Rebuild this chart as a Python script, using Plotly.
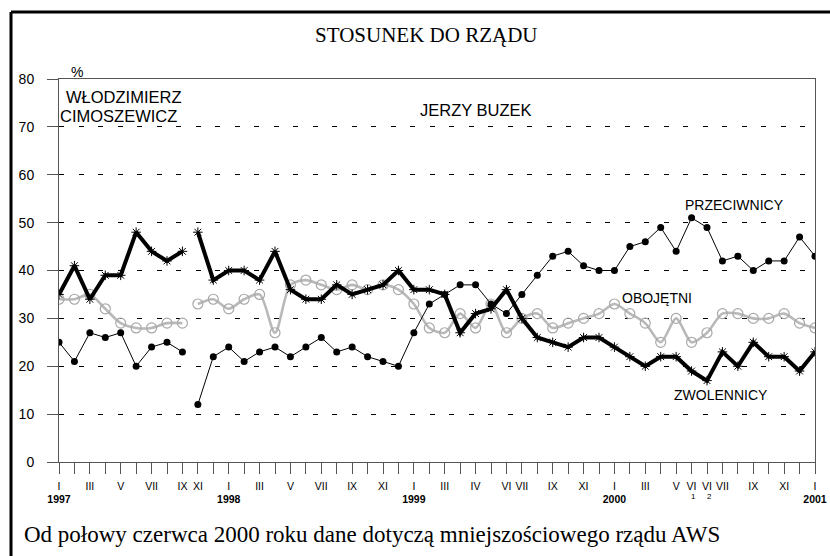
import plotly.graph_objects as go

# ---- data ----
tick_labels = ["I", "", "III", "", "V", "", "VII", "", "IX", "XI", "", "I", "", "III", "", "V", "", "VII", "", "IX",
               "", "XI", "", "I", "", "III", "", "IV", "", "VI", "VII", "", "IX", "", "XI", "", "I", "", "III", "",
               "V", "VI", "VI", "VII", "", "IX", "", "XI", "", "I"]
year_labels = {0: "1997", 11: "1998", 23: "1999", 36: "2000", 49: "2001"}
sub_labels = {41: "1", 42: "2"}

# Cimoszewicz government (surveys 0-8), Buzek government (surveys 9-49)
zwolennicy_cim = [35, 41, 34, 39, 39, 48, 44, 42, 44]
zwolennicy_buz = [48, 38, 40, 40, 38, 44, 36, 34, 34, 37, 35, 36, 37, 40, 36, 36, 35, 27, 31, 32, 36,
                  30, 26, 25, 24, 26, 26, 24, 22, 20, 22, 22, 19, 17, 23, 20, 25, 22, 22, 19, 23]
przeciwnicy_cim = [25, 21, 27, 26, 27, 20, 24, 25, 23]
przeciwnicy_buz = [12, 22, 24, 21, 23, 24, 22, 24, 26, 23, 24, 22, 21, 20, 27, 33, 35, 37, 37, 33, 31,
                   35, 39, 43, 44, 41, 40, 40, 45, 46, 49, 44, 51, 49, 42, 43, 40, 42, 42, 47, 43]
obojetni_cim = [34, 34, 35, 32, 29, 28, 28, 29, 29]
obojetni_buz = [33, 34, 32, 34, 35, 27, 37, 38, 37, 36, 37, 36, 37, 36, 33, 28, 27, 31, 28, 33, 27,
                30, 31, 28, 29, 30, 31, 33, 31, 29, 25, 30, 25, 27, 31, 31, 30, 30, 31, 29, 28]

n = len(tick_labels)
x_cim = list(range(len(zwolennicy_cim)))
x_buz = list(range(len(zwolennicy_cim), n))

ticktext = []
for i, t in enumerate(tick_labels):
    if i in year_labels:
        ticktext.append(f"{t}<br><b>{year_labels[i]}</b>")
    else:
        ticktext.append(t)

# ---- layout geometry (pixels) ----
W, H = 830, 556
L, R, T, B = 59, 15, 79, 94
PW, PH = W - L - R, H - T - B


def xp(px):
    return (px - L) / PW


def yp(py):
    return (H - B - py) / PH


SANS = "Arial, Liberation Sans, sans-serif"
SERIF = "Times New Roman, Liberation Serif, serif"

fig = go.Figure()

for xs, ys in [(x_cim, obojetni_cim), (x_buz, obojetni_buz)]:
    fig.add_trace(go.Scatter(
        x=xs, y=ys, mode="lines+markers", name="OBOJĘTNI",
        line=dict(color="#b9b9b9", width=2.6, shape="spline", smoothing=0.8),
        marker=dict(symbol="circle-open", size=10, color="#a8a8a8", line=dict(width=1.2)),
        showlegend=False))

for xs, ys in [(x_cim, przeciwnicy_cim), (x_buz, przeciwnicy_buz)]:
    fig.add_trace(go.Scatter(
        x=xs, y=ys, mode="lines+markers", name="PRZECIWNICY",
        line=dict(color="black", width=1),
        marker=dict(symbol="circle", size=7, color="black"),
        showlegend=False))

for xs, ys in [(x_cim, zwolennicy_cim), (x_buz, zwolennicy_buz)]:
    fig.add_trace(go.Scatter(
        x=xs, y=ys, mode="lines+markers", name="ZWOLENNICY",
        line=dict(color="black", width=4),
        marker=dict(symbol="asterisk-open", size=8, color="black", line=dict(width=1, color="black")),
        showlegend=False))

annotations = [
    dict(text="STOSUNEK DO RZĄDU", x=xp(426), y=yp(35), font=dict(family=SERIF, size=21, color="black")),
    dict(text="%", x=xp(77), y=yp(72), font=dict(family=SANS, size=14, color="black")),
    dict(text="WŁODZIMIERZ", x=xp(64), y=yp(97), xanchor="left", font=dict(family=SANS, size=16.5, color="black")),
    dict(text="CIMOSZEWICZ", x=xp(58), y=yp(116), xanchor="left", font=dict(family=SANS, size=16.5, color="black")),
    dict(text="JERZY BUZEK", x=xp(476), y=yp(110), font=dict(family=SANS, size=16.5, color="black")),
    dict(text="PRZECIWNICY", x=xp(734), y=yp(205), font=dict(family=SANS, size=14, color="black")),
    dict(text="OBOJĘTNI", x=xp(657), y=yp(298), font=dict(family=SANS, size=14, color="black")),
    dict(text="ZWOLENNICY", x=xp(721), y=yp(395), font=dict(family=SANS, size=14, color="black")),
    dict(text="Od połowy czerwca 2000 roku dane dotyczą mniejszościowego rządu AWS",
         x=xp(22), y=yp(534), xanchor="left", font=dict(family=SERIF, size=23, color="black")),
]
for k, s in sub_labels.items():
    annotations.append(dict(text=s, x=xp(L + k * PW / (n - 1) + 2), y=yp(497),
                            font=dict(family=SANS, size=8, color="black")))
for a in annotations:
    a.update(xref="paper", yref="paper", showarrow=False)
    a.setdefault("xanchor", "center")
    a["yanchor"] = "middle"

border = dict(color="black", width=3)
fig.update_layout(
    width=W, height=H,
    margin=dict(l=L, r=R, t=T, b=B, pad=0, autoexpand=False),
    paper_bgcolor="white", plot_bgcolor="white",
    annotations=annotations,
    shapes=[
        dict(type="line", xref="paper", yref="paper", x0=xp(11), x1=xp(11), y0=yp(560), y1=yp(12), line=border),
        dict(type="line", xref="paper", yref="paper", x0=xp(11), x1=xp(834), y0=yp(12), y1=yp(12), line=border),
    ],
    xaxis=dict(
        range=[0, n - 1], tickmode="array", tickvals=list(range(n)), ticktext=ticktext,
        automargin=False,
        showgrid=False, zeroline=False, showline=True, mirror=True, linecolor="#555", linewidth=1,
        ticks="outside", ticklen=11, tickcolor="#555", tickwidth=1, ticklabelstandoff=3,
        tickfont=dict(family=SANS, size=10.5, color="black"),
    ),
    yaxis=dict(
        range=[0, 80], tickvals=[0, 10, 20, 30, 40, 50, 60, 70, 80],
        automargin=False,
        showgrid=True, gridcolor="black", gridwidth=1, griddash="5px,14.5px",
        zeroline=False, showline=True, mirror=True, linecolor="#555", linewidth=1,
        ticks="outside", ticklen=11, tickcolor="#555", tickwidth=1, ticklabelstandoff=10,
        tickfont=dict(family=SANS, size=14, color="black"),
    ),
)

fig.write_html(
    "out.html", config={"displayModeBar": False},
    post_script=("document.documentElement.style.margin='0px';document.documentElement.style.overflow='hidden';"
                 "document.body.style.margin='0px';document.body.style.overflow='hidden';"))
